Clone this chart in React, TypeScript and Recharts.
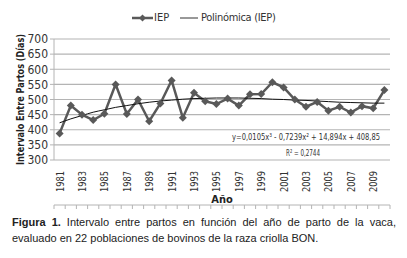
import React from 'react';
import { LineChart, Line, XAxis, YAxis, CartesianGrid, Label } from 'recharts';

// años 1981..2010
const years = [
  1981, 1982, 1983, 1984, 1985, 1986, 1987, 1988, 1989, 1990,
  1991, 1992, 1993, 1994, 1995, 1996, 1997, 1998, 1999, 2000,
  2001, 2002, 2003, 2004, 2005, 2006, 2007, 2008, 2009, 2010,
];
// intervalo entre partos (días)
const iep = [
  388, 480, 450, 432, 453, 550, 452, 500, 428, 487,
  563, 440, 522, 494, 485, 503, 480, 517, 518, 557,
  540, 500, 476, 492, 463, 476, 457, 478, 471, 531,
];
// línea de tendencia polinómica
const trend = [
  423, 436, 447, 458, 466, 474, 480, 486, 491, 495,
  498, 501, 503, 504, 505, 505, 505, 504, 503, 501,
  500, 498, 497, 495, 493, 491, 490, 489, 488, 488,
];
const yTicks = [300, 350, 400, 450, 500, 550, 600, 650, 700];
const labelYears = years.filter((y) => y % 2 === 1);
const boundaries = [...years.map((y) => y - 0.5), years[years.length - 1] + 0.5];

const data = years.map((year, i) => ({ year, iep: iep[i], trend: trend[i] }));

const FONT = '"DejaVu Sans Condensed", "Liberation Sans", sans-serif';
const GRID = '#b4b4b4';

const Diamond = (props: any) => {
  const { cx, cy } = props;
  if (cx == null || cy == null) return null;
  const r = 4;
  return (
    <polygon
      points={`${cx},${cy - r} ${cx + r},${cy} ${cx},${cy + r} ${cx - r},${cy}`}
      fill="#595959"
    />
  );
};

const YearTick = (props: any) => {
  const { x, y, payload } = props;
  const ty = y + 3;
  return (
    <text
      x={x + 4}
      y={ty}
      transform={`rotate(-90 ${x + 4} ${ty})`}
      textAnchor="end"
      fontSize={10}
      fontFamily={FONT}
      fill="#333"
      textLength={21}
      lengthAdjust="spacingAndGlyphs"
    >
      {payload.value}
    </text>
  );
};

const YLabel = (props: any) => {
  const { viewBox } = props;
  const cx = viewBox.x + 24;
  const cy = viewBox.y + viewBox.height / 2;
  return (
    <text
      x={cx}
      y={cy}
      transform={`rotate(-90 ${cx} ${cy})`}
      textAnchor="middle"
      fontSize={11}
      fontWeight="bold"
      fontFamily={FONT}
      fill="#222"
      textLength={131}
      lengthAdjust="spacingAndGlyphs"
    >
      Intervalo Entre Partos (Días)
    </text>
  );
};

const App: React.FC = () => {
  return (
    <div style={{ position: 'absolute', left: 0, top: 0, width: 407, height: 258, background: '#fff' }}>
      {/* leyenda */}
      <div style={{ position: 'absolute', left: 0, top: 9, width: 407, height: 18, fontFamily: FONT, fontSize: 11, color: '#333' }}>
        <svg width={40} height={18} style={{ position: 'absolute', left: 131, top: 0 }}>
          <line x1={1} y1={9} x2={22} y2={9} stroke="#595959" strokeWidth={2.5} />
          <polygon points="11.5,5.5 15,9 11.5,12.5 8,9" fill="#595959" />
        </svg>
        <span style={{ position: 'absolute', left: 154, top: 2 }}>IEP</span>
        <svg width={24} height={18} style={{ position: 'absolute', left: 179, top: 0 }}>
          <line x1={1} y1={9} x2={19} y2={9} stroke="#333" strokeWidth={1} />
        </svg>
        <span style={{ position: 'absolute', left: 201, top: 2, letterSpacing: -0.3 }}>Polinómica (IEP)</span>
      </div>

      <LineChart
        width={407}
        height={209}
        data={data}
        margin={{ top: 39, right: 17, left: 0, bottom: 0 }}
      >
        <CartesianGrid horizontal vertical={false} stroke={GRID} strokeWidth={1.2} />
        <XAxis
          xAxisId="t"
          dataKey="year"
          type="number"
          domain={[1980.5, 2010.5]}
          ticks={boundaries}
          tickFormatter={() => ''}
          tickSize={4}
          height={4}
          stroke={GRID}
          interval={0}
        />
        <XAxis
          xAxisId="l"
          dataKey="year"
          type="number"
          domain={[1980.5, 2010.5]}
          ticks={labelYears}
          interval={0}
          axisLine={false}
          tickLine={false}
          height={45}
          tick={<YearTick />}
          label={{ value: 'Año', position: 'insideBottom', offset: 2, fontSize: 11, fontWeight: 'bold', fontFamily: FONT, fill: '#222' }}
        />
        <YAxis
          domain={[300, 700]}
          ticks={yTicks}
          interval={0}
          width={54}
          tickSize={4}
          stroke={GRID}
          tick={{ fontSize: 12, fontFamily: FONT, fill: '#333' }}
        >
          <Label content={<YLabel />} />
        </YAxis>
        <Line
          xAxisId="l"
          dataKey="iep"
          stroke="#595959"
          strokeWidth={2.5}
          dot={<Diamond />}
          isAnimationActive={false}
        />
        <Line
          xAxisId="l"
          dataKey="trend"
          type="monotone"
          stroke="#111"
          strokeWidth={1}
          dot={false}
          isAnimationActive={false}
        />
      </LineChart>

      {/* ecuación de la tendencia */}
      <svg width={407} height={32} style={{ position: 'absolute', left: 0, top: 130 }}>
        <text x={232} y={10} fontSize={8.5} fontFamily={FONT} fill="#333" textLength={148} lengthAdjust="spacingAndGlyphs">
          y=0,0105x³ - 0,7239x² + 14,894x + 408,85
        </text>
        <text x={286} y={26} fontSize={9} fontFamily={FONT} fill="#333" textLength={34} lengthAdjust="spacingAndGlyphs">
          R² = 0,2744
        </text>
      </svg>

      {/* pie de figura */}
      <div
        style={{
          position: 'absolute',
          left: 12,
          top: 214,
          width: 384,
          fontFamily: '"Liberation Sans", Arial, sans-serif',
          fontSize: 11,
          lineHeight: '16px',
          color: '#222',
        }}
      >
        <div style={{ textAlign: 'justify', textAlignLast: 'justify' }}>
          <span style={{ fontWeight: 'bold' }}>Figura 1.</span>
          <span> Intervalo entre partos en función del año de parto de la vaca,</span>
        </div>
        <div>evaluado en 22 poblaciones de bovinos de la raza criolla BON.</div>
      </div>
    </div>
  );
};

export default App;
